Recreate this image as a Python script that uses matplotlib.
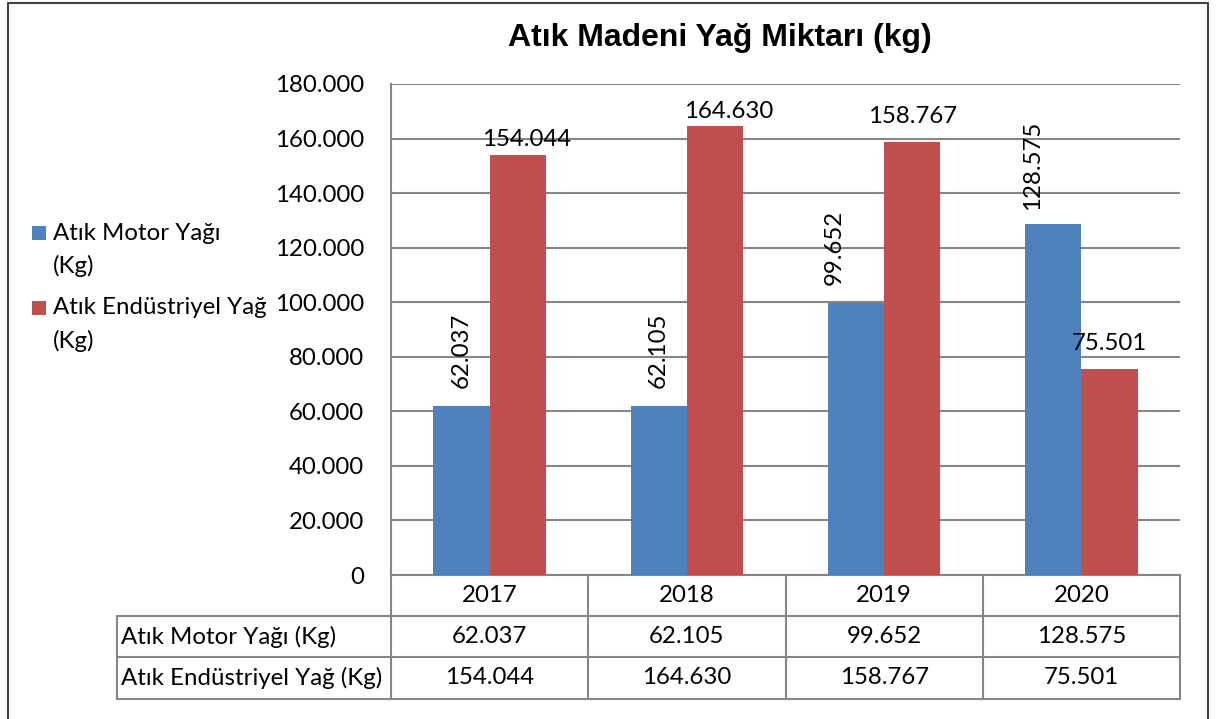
import matplotlib
matplotlib.use("Agg")
import matplotlib.pyplot as plt
from matplotlib import transforms
from matplotlib.patches import Rectangle

# data
years = ["2017", "2018", "2019", "2020"]
series_names = ["Atık Motor Yağı (Kg)", "Atık Endüstriyel Yağ (Kg)"]
motor_oil = [62037, 62105, 99652, 128575]
industrial_oil = [154044, 164630, 158767, 75501]
y_ticks = [0, 20000, 40000, 60000, 80000, 100000, 120000, 140000, 160000, 180000]
title = "Atık Madeni Yağ Miktarı (kg)"

# label nudges in pixels (dx, dy), copied from the picture's manual placement
motor_label_nudge = [(0, 18), (0, 18), (-22, 18), (-21, 14)]
industrial_label_nudge = [(9, 9), (14, 8), (0, 19), (0, 19)]

BLUE = "#4F81BD"
RED = "#C0504D"
GRID = "#868686"
FONT = "Lato"
FS = 17.3

W, H = 1219, 719


def fmt(v):
    return f"{int(v):,}".replace(",", ".")


def ax_y(py):
    # pixel row -> axes fraction (axes spans 84..575 px)
    return (575 - py) / (575 - 84)


def ax_x(px):
    return (px - 391) / (1180 - 391)


def main():
    fig = plt.figure(figsize=(W / 100, H / 100), dpi=100)
    fig.patch.set_facecolor("white")

    ax = fig.add_axes([391 / W, 1 - 575 / H, (1180 - 391) / W, (575 - 84) / H])

    x = list(range(len(years)))
    bw = 1 / 3.5
    ax.bar([i - bw / 2 for i in x], motor_oil, width=bw, color=BLUE, zorder=3)
    ax.bar([i + bw / 2 for i in x], industrial_oil, width=bw, color=RED, zorder=3)

    ax.set_xlim(-0.5, len(years) - 0.5)
    ax.set_ylim(0, y_ticks[-1])
    ax.set_yticks(y_ticks)
    ax.set_yticklabels([fmt(v) for v in y_ticks], fontsize=FS, family=FONT)
    ax.tick_params(axis="y", length=0, pad=27 * 0.72)
    ax.set_xticks([])

    ax.yaxis.grid(True, color=GRID, lw=1.5)
    ax.set_axisbelow(True)
    for s in ("top", "right"):
        ax.spines[s].set_visible(False)
    for s in ("left", "bottom"):
        ax.spines[s].set_color(GRID)
        ax.spines[s].set_linewidth(1.5)

    # bar value labels
    for i, v in enumerate(motor_oil):
        dx, dy = motor_label_nudge[i]
        ax.annotate(fmt(v), (i - bw / 2, v), xytext=(dx * 0.72, dy * 0.72),
                    textcoords="offset points", rotation=90, ha="center", va="bottom",
                    fontsize=FS, family=FONT, zorder=5)
    for i, v in enumerate(industrial_oil):
        dx, dy = industrial_label_nudge[i]
        ax.annotate(fmt(v), (i + bw / 2, v), xytext=(dx * 0.72, dy * 0.72),
                    textcoords="offset points", ha="center", va="baseline",
                    fontsize=FS, family=FONT, zorder=5)

    # data table under the axis
    blend = transforms.blended_transform_factory(ax.transData, ax.transAxes)
    y_head = ax_y(616)
    y_row1 = ax_y(657)
    y_row2 = ax_y(699)
    x_left = ax_x(117)
    line_kw = dict(color=GRID, lw=1.5, clip_on=False)

    for xv in [i + 0.5 for i in range(len(years))]:
        ax.plot([xv, xv], [0, y_row2], transform=blend, **line_kw)
    ax.plot([-0.5, -0.5], [0, y_row2], transform=blend, **line_kw)
    ax.plot([x_left, x_left], [y_head, y_row2], transform=ax.transAxes, **line_kw)
    for yv in (y_head, y_row1, y_row2):
        ax.plot([x_left, 1], [yv, yv], transform=ax.transAxes, **line_kw)

    tkw = dict(fontsize=FS, family=FONT, va="center", clip_on=False)
    for i, yr in enumerate(years):
        ax.text(i, (0 + y_head) / 2, yr, transform=blend, ha="center", **tkw)
        ax.text(i, (y_head + y_row1) / 2, fmt(motor_oil[i]), transform=blend, ha="center", **tkw)
        ax.text(i, (y_row1 + y_row2) / 2, fmt(industrial_oil[i]), transform=blend, ha="center", **tkw)
    ax.text(ax_x(121), (y_head + y_row1) / 2, series_names[0], transform=ax.transAxes, ha="left", **tkw)
    ax.text(ax_x(121), (y_row1 + y_row2) / 2, series_names[1], transform=ax.transAxes, ha="left", **tkw)

    # legend, names wrapped before the unit
    for name, color, py in ((series_names[0], BLUE, 233), (series_names[1], RED, 308)):
        fig.add_artist(Rectangle((32 / W, 1 - (py + 7) / H), 14 / W, 14 / H,
                                 facecolor=color, edgecolor="none", transform=fig.transFigure))
        first, unit = name.rsplit(" ", 1)
        fig.text(53 / W, 1 - py / H, first, fontsize=FS, family=FONT, va="center", ha="left")
        fig.text(53 / W, 1 - (py + 33) / H, unit, fontsize=FS, family=FONT, va="center", ha="left")

    fig.text(720 / W, 1 - 38 / H, title, fontsize=23, family="Liberation Sans",
             weight="bold", ha="center", va="center")

    # outer chart frame
    fig.add_artist(Rectangle((8 / W, -0.02), (1208 - 8) / W, 1.02 - 3 / H, fill=False,
                             edgecolor="#404040", lw=1.5, transform=fig.transFigure))

    fig.savefig("out.png", dpi=100)


if __name__ == "__main__":
    main()
